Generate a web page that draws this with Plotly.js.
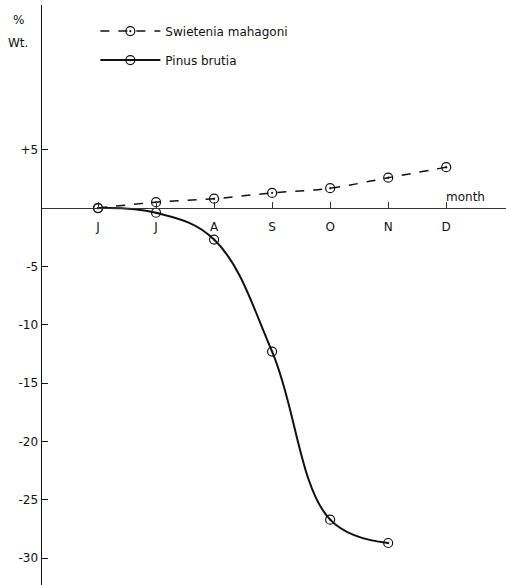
<!DOCTYPE html>
<html><head><meta charset="utf-8">
<script src="https://cdn.plot.ly/plotly-3.0.1.min.js"></script>
<style>html,body{margin:0;padding:0;background:#fff}#chart{width:506px;height:585px}</style>
</head><body><div id="chart"></div>
<script>
const monthIndex = [1, 2, 3, 4, 5, 6, 7];
const monthLabels = ["J", "J", "A", "S", "O", "N", "D"];
const swieteniaX = [1, 2, 3, 4, 5, 6, 7];
const swieteniaY = [0, 0.5, 0.8, 1.3, 1.7, 2.6, 3.5];
const pinusX = [1, 2, 3, 4, 5, 6];
const pinusY = [0, -0.4, -2.7, -12.3, -26.7, -28.7];
const yTickVals = [5, -5, -10, -15, -20, -25, -30];
const yTickText = ["+5", "-5", "-10", "-15", "-20", "-25", "-30"];

const yRange = [-32.3, 17.4];
const xRange = [0.035, 8.03];
const font = {family: "DejaVu Sans, sans-serif", size: 12, color: "#111"};

const traces = [
  {x: swieteniaX, y: swieteniaY, name: "Swietenia mahagoni", mode: "lines+markers", legendgroup: "a",
   line: {color: "#111", width: 1.5, dash: "dash", shape: "spline"},
   marker: {symbol: "circle-open-dot", size: 9, color: "#111", line: {width: 1.2}}},
  {x: pinusX, y: pinusY, name: "Pinus brutia", mode: "lines+markers", legendgroup: "b",
   line: {color: "#111", width: 2, shape: "spline", smoothing: 1.1},
   marker: {symbol: "circle-open-dot", size: 9, color: "#111", line: {width: 1.2}}}
];

const zeroPos = (0 - yRange[0]) / (yRange[1] - yRange[0]);

const layout = {
  width: 506, height: 585,
  margin: {l: 42, r: 0, t: 5, b: 0},
  paper_bgcolor: "#fff", plot_bgcolor: "#fff",
  font: font,
  showlegend: true,
  legend: {x: 0.115, y: 0.98, xanchor: "left", yanchor: "top", bgcolor: "rgba(0,0,0,0)",
           font: {family: "DejaVu Sans, sans-serif", size: 12, color: "#111"}, tracegroupgap: 10, itemwidth: 60},
  xaxis: {range: xRange, tickvals: monthIndex, ticktext: monthLabels, anchor: "free", position: zeroPos,
          showline: true, linecolor: "#333", linewidth: 1, ticks: "inside", ticklen: 6, tickcolor: "#333",
          ticklabelstandoff: 8,
          showgrid: false, zeroline: false, tickfont: {family: "DejaVu Sans, sans-serif", size: 12, color: "#111"}},
  yaxis: {range: yRange, tickvals: yTickVals, ticktext: yTickText, showline: true, linecolor: "#111", linewidth: 1.5,
          ticks: "inside", ticklen: 6, tickcolor: "#111", showgrid: false, zeroline: false,
          tickfont: {family: "DejaVu Sans, sans-serif", size: 12, color: "#111"}},
  annotations: [
    {x: 7.33, y: 0.2, xref: "x", yref: "y", text: "month", showarrow: false, yanchor: "bottom", font: font},
    {x: -0.035, y: 0.99, xref: "paper", yref: "paper", text: "%", showarrow: false, xanchor: "right", font: font},
    {x: -0.025, y: 0.95, xref: "paper", yref: "paper", text: "Wt.", showarrow: false, xanchor: "right", font: font}
  ]
};

Plotly.newPlot("chart", traces, layout, {displayModeBar: false, staticPlot: true});
</script>
</body></html>
